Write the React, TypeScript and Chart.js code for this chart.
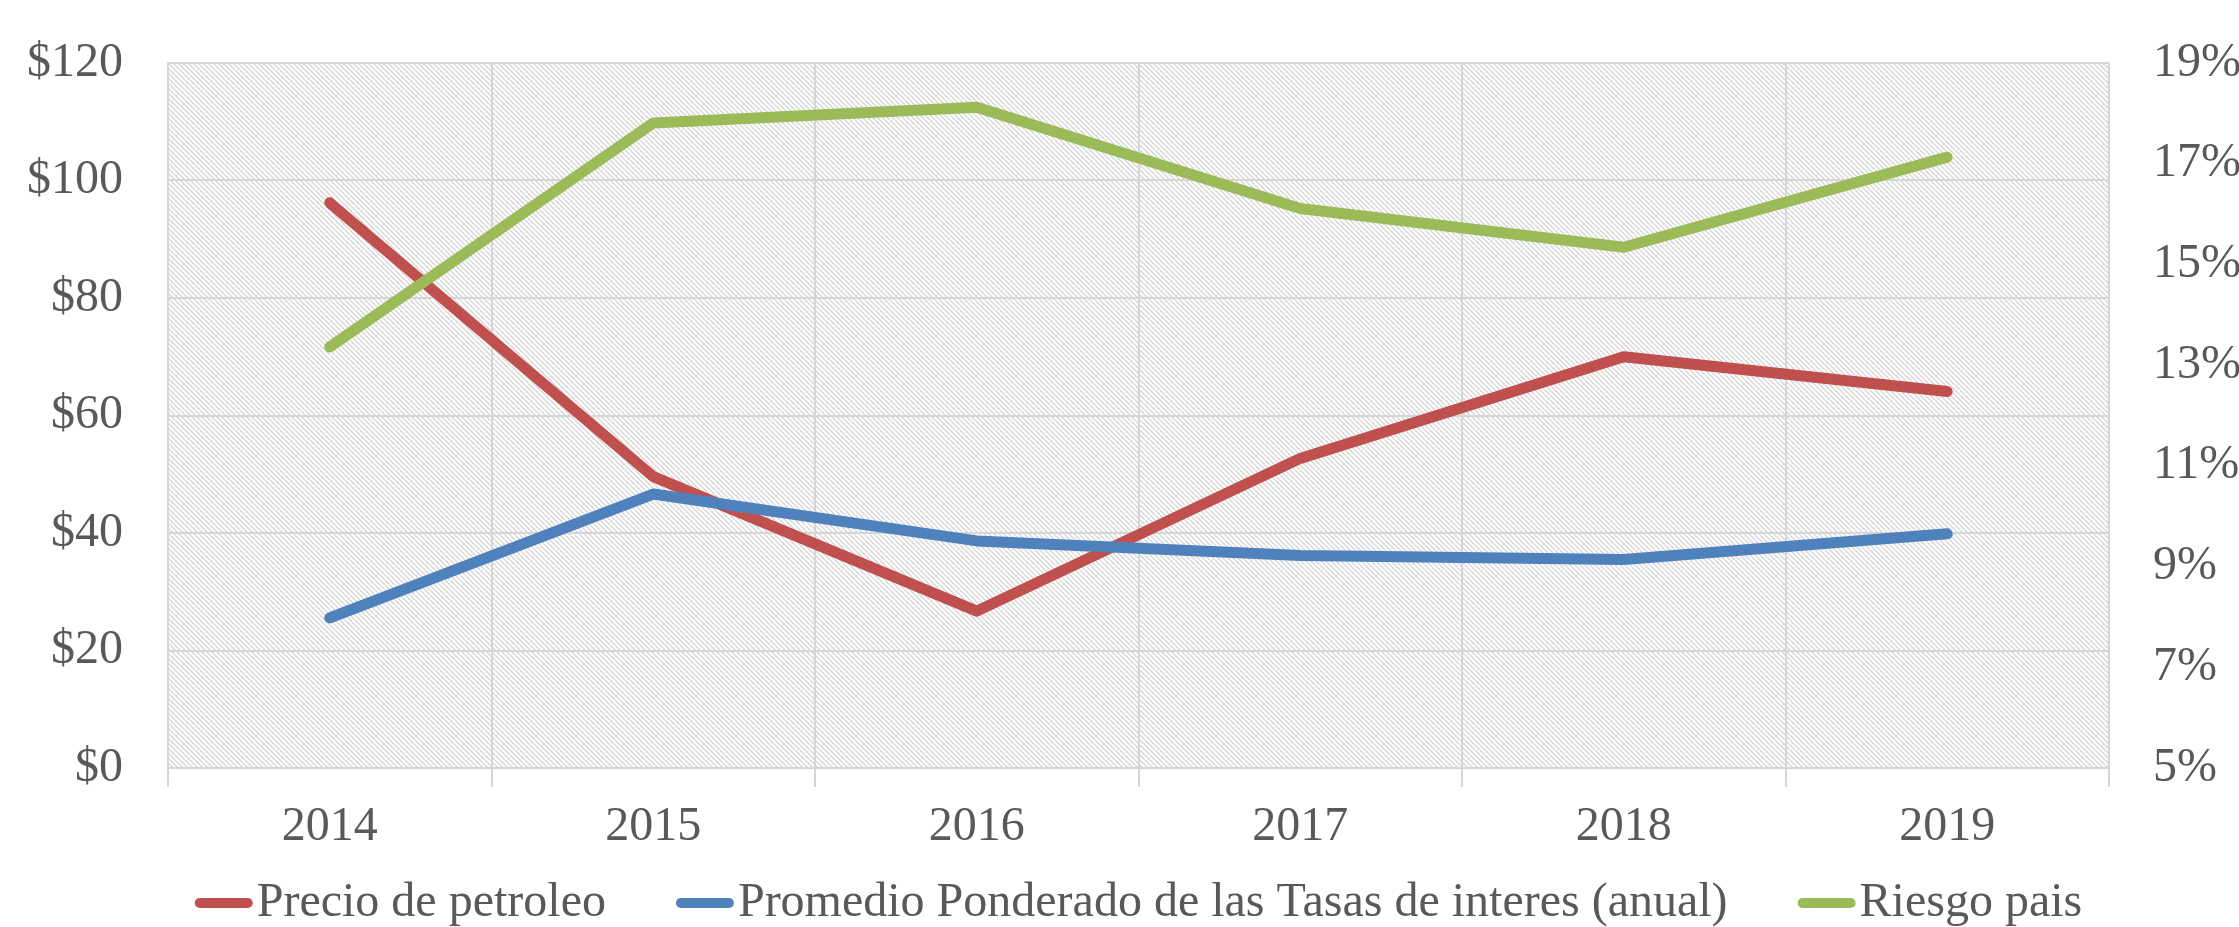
import React, { useEffect, useRef } from 'react';
import { Chart, registerables } from 'chart.js';

Chart.register(...registerables);

const years = ['2014', '2015', '2016', '2017', '2018', '2019'];
const oilPrice = [96.2, 49.6, 26.7, 52.7, 70.0, 64.1];
const interestRate = [7.98, 10.44, 9.51, 9.22, 9.14, 9.65];
const countryRisk = [13.36, 17.81, 18.12, 16.11, 15.34, 17.13];
const seriesLabels = [
  'Precio de petroleo',
  'Promedio Ponderado de las Tasas de interes (anual)',
  'Riesgo pais',
];
const seriesColors = ['#C0504D', '#4F81BD', '#9BBB59'];

const FONT_FAMILY = "'Liberation Serif', 'Times New Roman', serif";
const TEXT_COLOR = '#595959';
const GRID_COLOR = '#d6d6d6';

const hatchPlugin = {
  id: 'hatch',
  beforeDraw(chart: any) {
    const { ctx, chartArea: a } = chart;
    const n = 5;
    const p = document.createElement('canvas');
    p.width = n;
    p.height = n;
    const pc = p.getContext('2d')!;
    pc.fillStyle = '#ffffff';
    pc.fillRect(0, 0, n, n);
    pc.strokeStyle = '#d6d6d6';
    pc.lineWidth = 1.5;
    for (const k of [-n, 0, n]) {
      pc.beginPath();
      pc.moveTo(k, 0);
      pc.lineTo(k + n, n);
      pc.stroke();
    }
    ctx.save();
    const pat = ctx.createPattern(p, 'repeat');
    if (pat) ctx.fillStyle = pat;
    ctx.fillRect(a.left, a.top, a.right - a.left, a.bottom - a.top);
    ctx.restore();
  },
};

const legendPlugin = {
  id: 'customLegend',
  afterDraw(chart: any) {
    const ctx = chart.ctx;
    ctx.save();
    ctx.font = `48px ${FONT_FAMILY}`;
    const sample = 58;
    const gapText = 4;
    const gapItem = 70;
    const items = chart.data.datasets.map((ds: any) => ({
      label: ds.label,
      color: ds.borderColor,
      w: ctx.measureText(ds.label).width,
    }));
    const total =
      items.reduce((s: number, it: any) => s + sample + gapText + it.w, 0) +
      gapItem * (items.length - 1);
    let x = (chart.chartArea.left + chart.chartArea.right) / 2 - total / 2;
    const y = 903;
    for (const it of items) {
      ctx.strokeStyle = it.color;
      ctx.lineWidth = 10;
      ctx.lineCap = 'round';
      ctx.beginPath();
      ctx.moveTo(x + 5, y);
      ctx.lineTo(x + sample - 5, y);
      ctx.stroke();
      x += sample + gapText;
      ctx.fillStyle = TEXT_COLOR;
      ctx.textBaseline = 'middle';
      ctx.textAlign = 'left';
      ctx.fillText(it.label, x, y);
      x += it.w + gapItem;
    }
    ctx.restore();
  },
};

export default function App() {
  const canvasRef = useRef<HTMLCanvasElement | null>(null);

  useEffect(() => {
    document.body.style.margin = '0';
    const canvas = canvasRef.current;
    if (!canvas) return;
    const font = { family: FONT_FAMILY, size: 48 };
    const lineCommon = {
      borderWidth: 11,
      pointRadius: 0,
      pointHoverRadius: 0,
      tension: 0,
      borderCapStyle: 'round' as const,
      borderJoinStyle: 'round' as const,
      fill: false,
    };
    const fixVertical = (w: number) => (s: any) => {
      s.width = w;
      s.paddingTop = 0;
      s.paddingBottom = 0;
    };
    const chart = new Chart(canvas, {
      type: 'line',
      data: {
        labels: years,
        datasets: [
          {
            ...lineCommon,
            label: seriesLabels[0],
            data: oilPrice,
            borderColor: seriesColors[0],
            backgroundColor: seriesColors[0],
            yAxisID: 'y',
            order: 3,
          },
          {
            ...lineCommon,
            label: seriesLabels[1],
            data: interestRate,
            borderColor: seriesColors[1],
            backgroundColor: seriesColors[1],
            yAxisID: 'y1',
            order: 2,
          },
          {
            ...lineCommon,
            label: seriesLabels[2],
            data: countryRisk,
            borderColor: seriesColors[2],
            backgroundColor: seriesColors[2],
            yAxisID: 'y1',
            order: 1,
          },
        ],
      },
      options: {
        responsive: false,
        animation: false,
        devicePixelRatio: 1,
        layout: { padding: { top: 63, left: 0, right: 0, bottom: 0 } },
        plugins: {
          legend: { display: false },
          tooltip: { enabled: false },
          title: { display: false },
        },
        scales: {
          x: {
            offset: true,
            grid: {
              offset: true,
              color: GRID_COLOR,
              lineWidth: 2,
              tickLength: 19,
              tickColor: GRID_COLOR,
            },
            border: { color: GRID_COLOR, width: 2 },
            ticks: { font, color: TEXT_COLOR, padding: 12, maxRotation: 0 },
            afterFit: (s: any) => {
              s.height = 159;
              s.paddingLeft = 0;
              s.paddingRight = 0;
            },
          },
          y: {
            position: 'left',
            min: 0,
            max: 120,
            ticks: {
              stepSize: 20,
              font,
              color: TEXT_COLOR,
              padding: 45,
              callback: (v: any) => '$' + v,
            },
            grid: { color: GRID_COLOR, lineWidth: 2, drawTicks: false },
            border: { color: GRID_COLOR, width: 2 },
            afterFit: fixVertical(168),
          },
          y1: {
            position: 'right',
            min: 5,
            max: 19,
            ticks: {
              stepSize: 2,
              font,
              color: TEXT_COLOR,
              padding: 44,
              callback: (v: any) => v + '%',
            },
            grid: { display: false, drawTicks: false },
            border: { display: false },
            afterFit: fixVertical(130),
          },
        },
      },
      plugins: [hatchPlugin, legendPlugin],
    });
    return () => chart.destroy();
  }, []);

  return (
    <div style={{ width: 2239, height: 927 }}>
      <canvas ref={canvasRef} width={2239} height={927} />
    </div>
  );
}
